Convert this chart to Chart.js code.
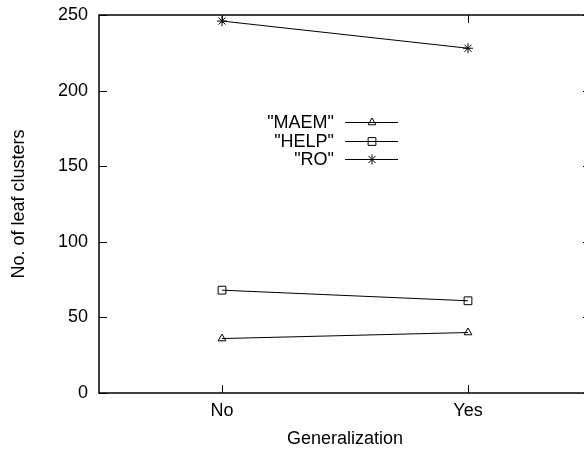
<!DOCTYPE html>
<html>
<head>
<meta charset="utf-8">
<script src="https://cdn.jsdelivr.net/npm/chart.js@4"></script>
<style>
  html, body { margin: 0; padding: 0; background: #fff; overflow: hidden; }
  #wrap { width: 584px; height: 453px; overflow: hidden; }
  #wrap div { width: 600px; height: 453px; }
</style>
</head>
<body>
<div id="wrap"><div><canvas id="chart"></canvas></div></div>
<script>
const categories = ["No", "Yes"];
const maemValues = [36, 40];
const helpValues = [68, 61];
const roValues = [246, 228];
const yTicks = [0, 50, 100, 150, 200, 250];

const seriesNames = ['"MAEM"', '"HELP"', '"RO"'];
const seriesMarkers = ["triangle", "rect", "star"];
const seriesRadius = [4.5, 5.5, 5];

const FONT = "'Liberation Sans', Arial, sans-serif";
const FSIZE = 18;

function makeSet(i, data) {
  return {
    label: seriesNames[i],
    data: data,
    borderColor: "#000",
    backgroundColor: "rgba(0,0,0,0)",
    borderWidth: 1,
    pointStyle: seriesMarkers[i],
    pointRadius: seriesRadius[i],
    pointBorderWidth: 1,
    pointBorderColor: "#000",
    pointBackgroundColor: "rgba(0,0,0,0)",
    tension: 0
  };
}

// gnuplot-like frame with inward ticks, plus the key drawn text-left / sample-right
const framePlugin = {
  id: "frame",
  afterDraw(chart) {
    const c = chart.ctx;
    const a = chart.chartArea;
    const xs = chart.scales.x, ys = chart.scales.y;
    const tl = 8;
    c.save();
    c.strokeStyle = "#000";
    c.lineWidth = 1.5;
    c.strokeRect(a.left, a.top, a.right - a.left, a.bottom - a.top);
    c.lineWidth = 1;
    c.beginPath();
    yTicks.forEach(v => {
      const y = Math.round(ys.getPixelForValue(v)) + 0.5;
      c.moveTo(a.left, y); c.lineTo(a.left + tl, y);
      c.moveTo(a.right, y); c.lineTo(a.right - tl, y);
    });
    categories.forEach((cat, i) => {
      const x = Math.round(xs.getPixelForValue(i)) + 0.5;
      c.moveTo(x, a.bottom); c.lineTo(x, a.bottom - tl);
      c.moveTo(x, a.top); c.lineTo(x, a.top + tl);
    });
    c.stroke();

    // key
    c.font = FSIZE + "px " + FONT;
    chart.data.datasets.forEach((ds, i) => {
      const y = Math.round(122 + i * 18.5) + 0.5;
      c.fillStyle = "#000";
      c.textAlign = "right";
      c.textBaseline = "middle";
      c.fillText(ds.label, 334, y + 1);
      c.beginPath();
      c.moveTo(345, y);
      c.lineTo(398, y);
      c.stroke();
      c.fillStyle = "rgba(0,0,0,0)";
      Chart.helpers.drawPoint(c, {
        pointStyle: ds.pointStyle,
        radius: ds.pointRadius,
        rotation: 0,
        borderWidth: 1
      }, 372, y);
    });
    c.restore();
  }
};

function noOverhang(scale) {
  scale.paddingTop = 0;
  scale.paddingBottom = 0;
  scale.paddingLeft = 0;
  scale.paddingRight = 0;
}

new Chart(document.getElementById("chart"), {
  type: "line",
  data: {
    labels: categories,
    datasets: [makeSet(0, maemValues), makeSet(1, helpValues), makeSet(2, roValues)]
  },
  options: {
    responsive: true,
    maintainAspectRatio: false,
    animation: false,
    layout: { padding: { left: 0, top: 15, right: 9, bottom: 0 } },
    plugins: {
      legend: { display: false },
      tooltip: { enabled: false }
    },
    scales: {
      x: {
        type: "category",
        offset: true,
        grid: { display: false, drawTicks: false },
        border: { display: false },
        ticks: { color: "#000", font: { family: FONT, size: FSIZE }, padding: 7 },
        title: {
          display: true,
          text: "Generalization",
          color: "#000",
          font: { family: FONT, size: FSIZE },
          padding: { top: 0, bottom: 3 }
        },
        afterFit(scale) { scale.height = 60; noOverhang(scale); }
      },
      y: {
        min: 0,
        max: 250,
        afterBuildTicks(scale) { scale.ticks = yTicks.map(v => ({ value: v })); },
        grid: { display: false, drawTicks: false },
        border: { display: false },
        ticks: { color: "#000", font: { family: FONT, size: FSIZE }, padding: 11 },
        title: {
          display: true,
          text: "No. of leaf clusters",
          color: "#000",
          font: { family: FONT, size: FSIZE },
          padding: { top: 8, bottom: 0 }
        },
        afterFit(scale) { scale.width = 99; noOverhang(scale); }
      }
    }
  },
  plugins: [framePlugin]
});
</script>
</body>
</html>
